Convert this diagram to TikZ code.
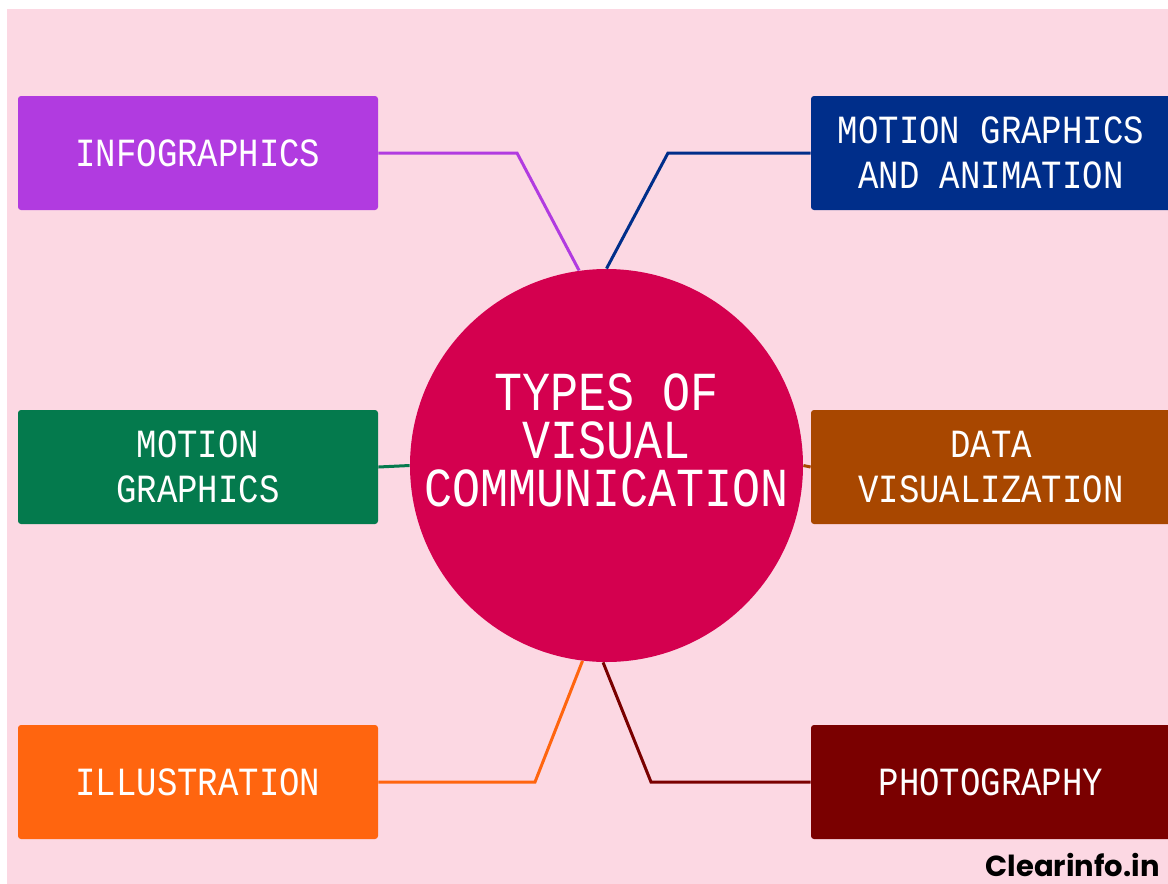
\documentclass[tikz,border=0pt]{standalone}
\usepackage{fontspec}
\setmainfont{Liberation Mono}[FakeStretch=0.85]
\newfontfamily\markfont{Poppins}
\definecolor{bgpink}{HTML}{FCD8E3}
\definecolor{hubred}{HTML}{D4004F}
\definecolor{cinfo}{HTML}{B13BE0}
\definecolor{cmga}{HTML}{002E8A}
\definecolor{cmg}{HTML}{047A4D}
\definecolor{cdata}{HTML}{A84700}
\definecolor{cill}{HTML}{FF650F}
\definecolor{cphoto}{HTML}{7A0000}
\tikzset{
  typebox/.style={rectangle, rounded corners=1.5pt, minimum width=180pt, minimum height=57pt,
    inner sep=0pt, align=center, text=white, font=\fontsize{20}{22.5}\selectfont},
  link/.style={line width=1.5pt}
}
\begin{document}
\begin{tikzpicture}[x=0.5pt,y=-0.5pt]
      \useasboundingbox (0,0) rectangle (1168,884);
      \fill[white] (0,0) rectangle (1168,884);
      \fill[bgpink] (7,9) rectangle (1168,884);
      \draw
        (606.5,465.5) node[circle, fill=hubred, minimum size=196.5pt, inner sep=0pt] (hub){}
        (606.5,440) node[align=center, text=white, font=\fontsize{27.5}{24}\selectfont] (title){TYPES OF\\VISUAL\\COMMUNICATION}
        (198,153) node[typebox, fill=cinfo] (info){INFOGRAPHICS}
        (991,153) node[typebox, fill=cmga] (mga){MOTION GRAPHICS\\AND ANIMATION}
        (198,467) node[typebox, fill=cmg] (mg){MOTION\\GRAPHICS}
        (991,467) node[typebox, fill=cdata] (data){DATA\\VISUALIZATION}
        (198,782) node[typebox, fill=cill] (ill){ILLUSTRATION}
        (991,782) node[typebox, fill=cphoto] (photo){PHOTOGRAPHY}
        (1160,876) node[anchor=base east, inner sep=0pt, font=\markfont\bfseries\fontsize{14.5}{16}\selectfont] (mark){Clearinfo.in};
      \coordinate (infobend) at (517,153);
      \coordinate (mgabend) at (668,153);
      \coordinate (illbend) at (535,782);
      \coordinate (photobend) at (651,782);
      \begin{scope}[link]
        \draw[cinfo] (info.east) -- (infobend) -- (hub.98);
        \draw[cmga] (hub.90) -- (mgabend) -- (mga.west);
        \draw[cmg] (mg.east) -- (hub.west);
        \draw[cdata] (hub.east) -- (data.west);
        \draw[cill] (ill.east) -- (illbend) -- (hub.263);
        \draw[cphoto] (hub.269) -- (photobend) -- (photo.west);
      \end{scope}
    \end{tikzpicture}
\end{document}
